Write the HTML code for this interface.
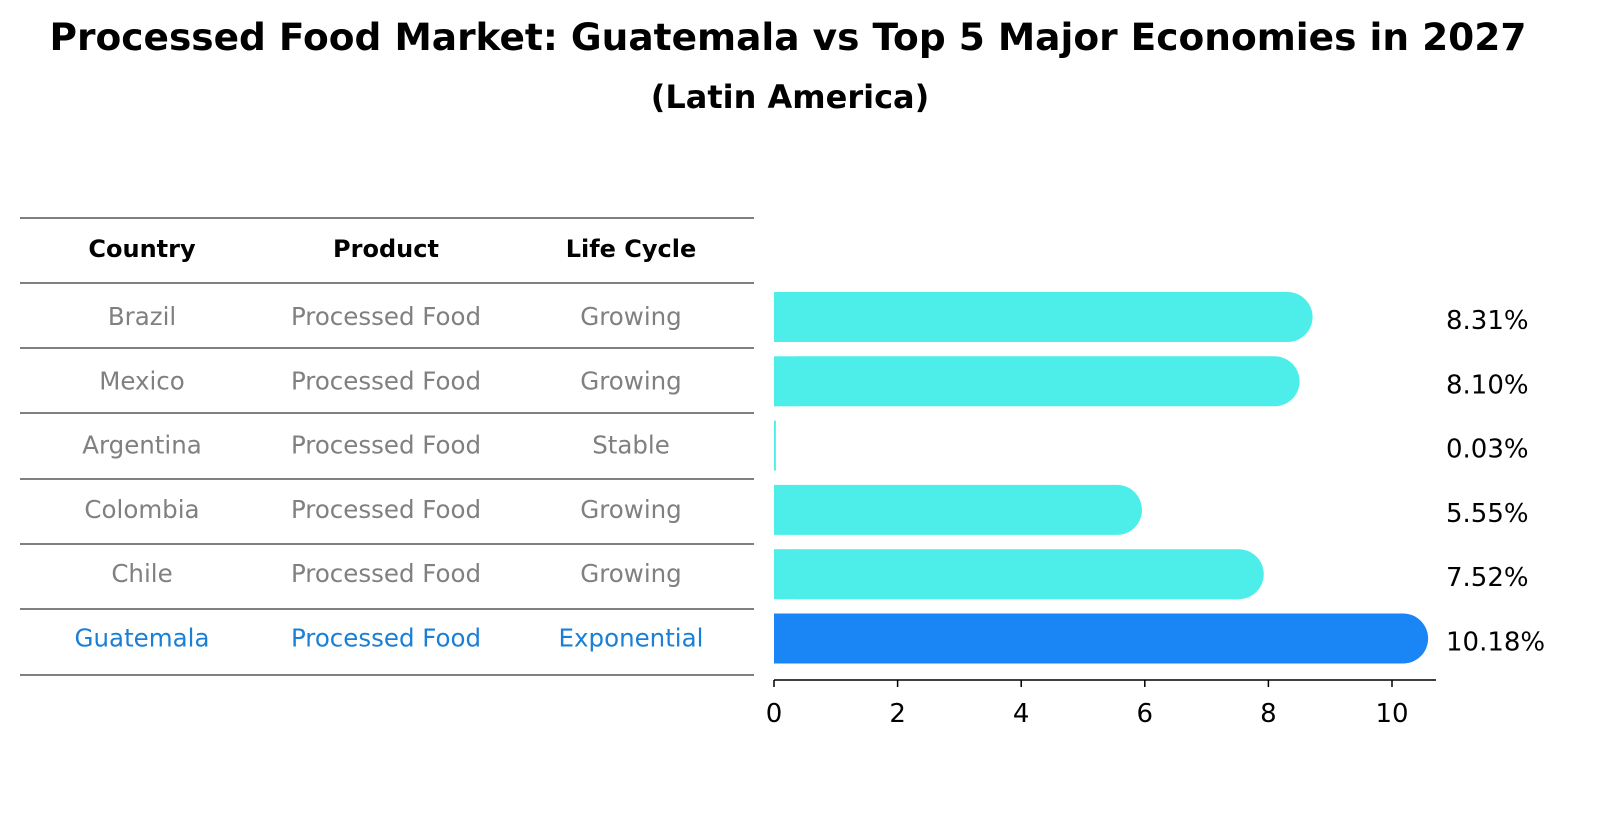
<!DOCTYPE html>
<html><head><meta charset="utf-8"><style>
body{margin:0;background:#fff;font-family:"Liberation Sans","DejaVu Sans",sans-serif;}
svg text{font-family:"DejaVu Sans","Liberation Sans",sans-serif;}
</style></head><body>
<svg id="c" width="1604" height="823" xmlns="http://www.w3.org/2000/svg">
<text x="788" y="50" text-anchor="middle" font-size="37.5" font-weight="bold">Processed Food Market: Guatemala vs Top 5 Major Economies in 2027</text>
<text x="790" y="108" text-anchor="middle" font-size="32" font-weight="bold">(Latin America)</text>
<g id="tbl"></g>
<g id="bars"></g>
<g id="axis"></g>
</svg>
<script>
const countries=["Brazil","Mexico","Argentina","Colombia","Chile","Guatemala"];
const products=["Processed Food","Processed Food","Processed Food","Processed Food","Processed Food","Processed Food"];
const stages=["Growing","Growing","Stable","Growing","Growing","Exponential"];
const values=[8.31,8.10,0.03,5.55,7.52,10.18];
const ticks=[0,2,4,6,8,10];
const NS="http://www.w3.org/2000/svg";
function mk(t,a,p,txt){const e=document.createElementNS(NS,t);for(const k in a)e.setAttribute(k,a[k]);if(txt!==undefined)e.textContent=txt;p.appendChild(e);return e;}
const x=v=>774+v*61.8;
const rowY=i=>317+i*64.3;
const tbl=document.getElementById('tbl'),bars=document.getElementById('bars'),axis=document.getElementById('axis');
const lines=[218,283,348,413,479,544,609,675];
lines.forEach(y=>{const l=mk('line',{x1:20,x2:754,y1:y,y2:y,stroke:'#000','stroke-width':1},tbl);

});
const cx=[142,386,631],hd=["Country","Product","Life Cycle"];
hd.forEach((h,j)=>{const t=mk('text',{x:cx[j],y:257,'text-anchor':'middle','font-size':24,'font-weight':'bold'},tbl,h);

});
countries.forEach((c,i)=>{const col=i===countries.length-1?'#1a7fd6':'#808080';
[c,products[i],stages[i]].forEach((s,j)=>{const t=mk('text',{x:cx[j],y:rowY(i)+8,'text-anchor':'middle','font-size':24.5,fill:col},tbl,s);

});
const r=25,w=x(values[i])-x(0),hl=i===countries.length-1,fill=hl?'#1a86f5':'#4deeea';
const g=mk('g',{},bars);


if(w>r){mk('rect',{x:x(0),y:rowY(i)-r,width:w+r,height:2*r,rx:r,fill:fill},g);
mk('rect',{x:x(0),y:rowY(i)-r,width:r,height:2*r,fill:fill},g);}
else mk('rect',{x:x(0),y:rowY(i)-r,width:Math.max(w,1.8),height:2*r,fill:fill},g);
const t=mk('text',{x:1446,y:rowY(i)+12,'font-size':26},bars,values[i].toFixed(2)+'%');

});
mk('line',{x1:774,x2:1436,y1:680,y2:680,stroke:'#000','stroke-width':1.5},axis);
ticks.forEach(v=>{mk('line',{x1:x(v),x2:x(v),y1:680,y2:687,stroke:'#000','stroke-width':1.5},axis);
const t=mk('text',{x:x(v),y:722,'text-anchor':'middle','font-size':26},axis,v);

});
</script>
</body></html>
